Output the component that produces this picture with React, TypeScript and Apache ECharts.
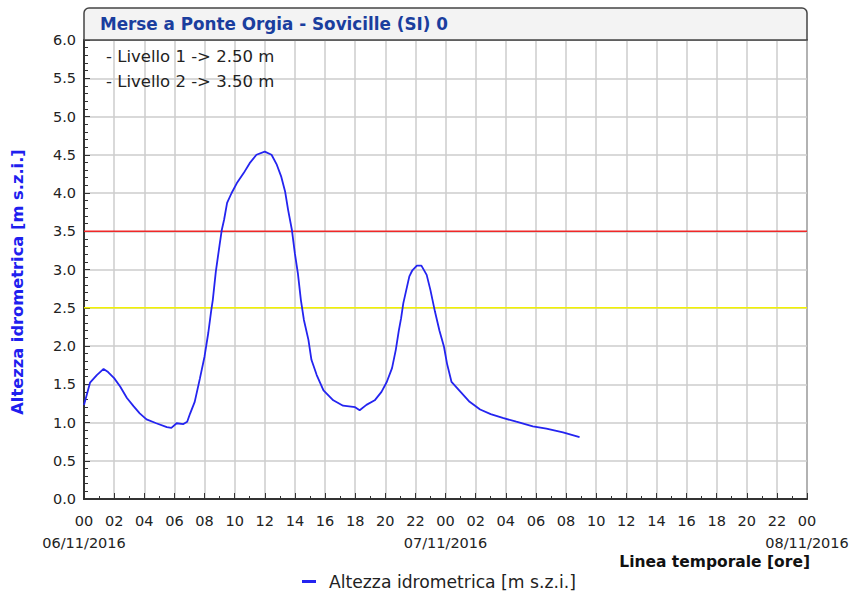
import React, { useEffect, useRef } from "react";
import * as echarts from "echarts";

const hours = [0, 0.4, 0.85, 1.3, 1.6, 2.0, 2.4, 2.85, 3.3, 3.7, 4.15, 4.8, 5.5, 5.8, 6.15, 6.6, 6.85, 7.05, 7.35, 7.7, 8.0, 8.25, 8.45, 8.55, 8.75, 9.0, 9.15, 9.3, 9.5, 9.8, 10.15, 10.6, 11.0, 11.45, 12.0, 12.45, 12.8, 13.1, 13.35, 13.55, 13.8, 14.0, 14.2, 14.4, 14.6, 14.9, 15.1, 15.45, 15.9, 16.55, 17.2, 18.0, 18.3, 18.75, 19.3, 19.75, 20.1, 20.45, 20.7, 20.9, 21.05, 21.2, 21.45, 21.6, 21.8, 22.1, 22.4, 22.75, 23.0, 23.3, 23.6, 23.9, 24.1, 24.4, 25.0, 25.6, 26.3, 27.0, 27.8, 28.7, 29.8, 30.7, 31.8, 32.9];
const levels = [1.23, 1.52, 1.62, 1.70, 1.66, 1.58, 1.47, 1.32, 1.21, 1.12, 1.04, 0.99, 0.94, 0.93, 0.99, 0.98, 1.01, 1.12, 1.27, 1.58, 1.86, 2.17, 2.47, 2.60, 2.97, 3.32, 3.52, 3.65, 3.87, 4.00, 4.13, 4.26, 4.39, 4.50, 4.54, 4.50, 4.37, 4.21, 4.02, 3.78, 3.52, 3.21, 2.95, 2.60, 2.34, 2.08, 1.82, 1.62, 1.42, 1.29, 1.22, 1.20, 1.16, 1.23, 1.29, 1.40, 1.53, 1.71, 1.95, 2.20, 2.36, 2.56, 2.78, 2.91, 2.99, 3.05, 3.05, 2.93, 2.73, 2.45, 2.20, 1.99, 1.77, 1.53, 1.40, 1.27, 1.17, 1.11, 1.06, 1.01, 0.95, 0.92, 0.87, 0.81];
const dateLabels = ["06/11/2016", "07/11/2016", "08/11/2016"];
const thresholds = [2.5, 3.5];
const thresholdColors = ["#f2f200", "#f02828"];
const thresholdLabels = ["- Livello 1 -> 2.50 m", "- Livello 2 -> 3.50 m"];
const titleText = "Merse a Ponte Orgia - Sovicille (SI) 0";
const seriesName = "Altezza idrometrica [m s.z.i.]";
const xAxisTitle = "Linea temporale [ore]";
const X_MIN = 0;
const X_MAX = 48;

const FONT = "'DejaVu Sans', sans-serif";

export default function App() {
  const ref = useRef<HTMLDivElement>(null);
  useEffect(() => {
    if (!ref.current) return;
    const chart = echarts.init(ref.current, null, { renderer: "svg" });
    const pad = (n: number) => (n < 10 ? "0" + n : "" + n);
    chart.setOption({
      animation: false,
      backgroundColor: "#ffffff",
      textStyle: { fontFamily: FONT },
      grid: {
        left: 84,
        right: 48,
        top: 40,
        bottom: 99,
        containLabel: false,
        outerBoundsMode: "none",
        show: true,
        borderColor: "#333",
        borderWidth: 1.5,
        backgroundColor: "#fff",
      },
      xAxis: [
        {
          type: "value",
          min: X_MIN,
          max: X_MAX,
          interval: 2,
          axisLine: { lineStyle: { color: "#333", width: 2 } },
          axisTick: { inside: true, length: 6, lineStyle: { color: "#333" } },
          minorTick: { show: true, splitNumber: 2, length: 3, lineStyle: { color: "#333" } },
          splitLine: { show: true, lineStyle: { color: "#cccccc", width: 1.5 } },
          axisLabel: {
            interval: 0,
            margin: 11,
            fontSize: 14.5,
            lineHeight: 22,
            color: "#222",
            fontFamily: FONT,
            showMinLabel: true,
            showMaxLabel: true,
            hideOverlap: false,
            formatter: (v: number) => pad(v % 24),
          },
        },
        {
          type: "value",
          position: "bottom",
          min: X_MIN,
          max: X_MAX,
          interval: 24,
          axisLine: { show: false },
          axisTick: { show: false },
          splitLine: { show: false },
          axisLabel: {
            margin: 33,
            fontSize: 14.5,
            lineHeight: 22,
            color: "#222",
            fontFamily: FONT,
            showMinLabel: true,
            showMaxLabel: true,
            formatter: (v: number) => dateLabels[v / 24],
          },
        },
      ],
      yAxis: {
        type: "value",
        min: 0,
        max: 6,
        interval: 0.5,
        axisLine: { show: true, lineStyle: { color: "#333", width: 2 } },
        axisTick: { inside: true, length: 6, lineStyle: { color: "#333" } },
        minorTick: { show: true, splitNumber: 5, length: 4, lineStyle: { color: "#333" } },
        splitLine: { show: true, lineStyle: { color: "#cccccc", width: 1.5 } },
        axisLabel: { margin: 8, fontSize: 14.5, color: "#222", fontFamily: FONT, formatter: (v: number) => v.toFixed(1) },
      },
      legend: {
        bottom: 3,
        left: 297,
        icon: "rect",
        itemWidth: 14,
        itemHeight: 3,
        itemGap: 10,
        textStyle: { fontSize: 17.2, color: "#222", fontFamily: FONT, padding: [0, 0, 0, 8] },
        data: [seriesName],
      },
      series: [
        ...thresholds.map((t, i) => ({
          name: "soglia" + (i + 1),
          type: "line",
          xAxisIndex: 0,
          data: [
            [X_MIN, t],
            [X_MAX, t],
          ],
          symbol: "none",
          silent: true,
          z: 3,
          lineStyle: { color: thresholdColors[i], width: 1.5 },
        })),
        {
          name: seriesName,
          type: "line",
          xAxisIndex: 0,
          data: hours.map((h, i) => [h, levels[i]]),
          showSymbol: false,
          symbol: "none",
          z: 4,
          lineStyle: { color: "#2424f0", width: 1.8 },
          itemStyle: { color: "#2424f0" },
        },
      ],
      graphic: [
        {
          type: "rect",
          shape: { x: 84, y: 8, width: 723, height: 32, r: [5, 5, 0, 0] },
          style: { fill: "#f3f3f3", stroke: "#444", lineWidth: 1.5 },
          z: 10,
        },
        {
          type: "text",
          x: 100,
          y: 24,
          style: { text: titleText, fill: "#1a3e9e", font: `bold 16.8px ${FONT}`, textVerticalAlign: "middle" },
          z: 11,
        },
        {
          type: "text",
          x: 106,
          y: 56,
          style: { text: thresholdLabels[0], fill: "#222", font: `16.5px ${FONT}`, textVerticalAlign: "middle" },
          z: 11,
        },
        {
          type: "text",
          x: 106,
          y: 81,
          style: { text: thresholdLabels[1], fill: "#222", font: `16.5px ${FONT}`, textVerticalAlign: "middle" },
          z: 11,
        },
        {
          type: "text",
          x: 810,
          y: 562,
          style: { text: xAxisTitle, fill: "#111", font: `bold 15.5px ${FONT}`, textAlign: "right", textVerticalAlign: "middle" },
          z: 11,
        },
        {
          type: "text",
          x: 17.5,
          y: 282,
          rotation: Math.PI / 2,
          style: { text: seriesName, fill: "#1f1fef", font: `bold 16.3px ${FONT}`, textAlign: "center", textVerticalAlign: "middle" },
          z: 11,
        },
      ],
    });
    return () => chart.dispose();
  }, []);
  return <div ref={ref} style={{ width: 855, height: 598, position: "absolute", left: 0, top: 0 }} />;
}
